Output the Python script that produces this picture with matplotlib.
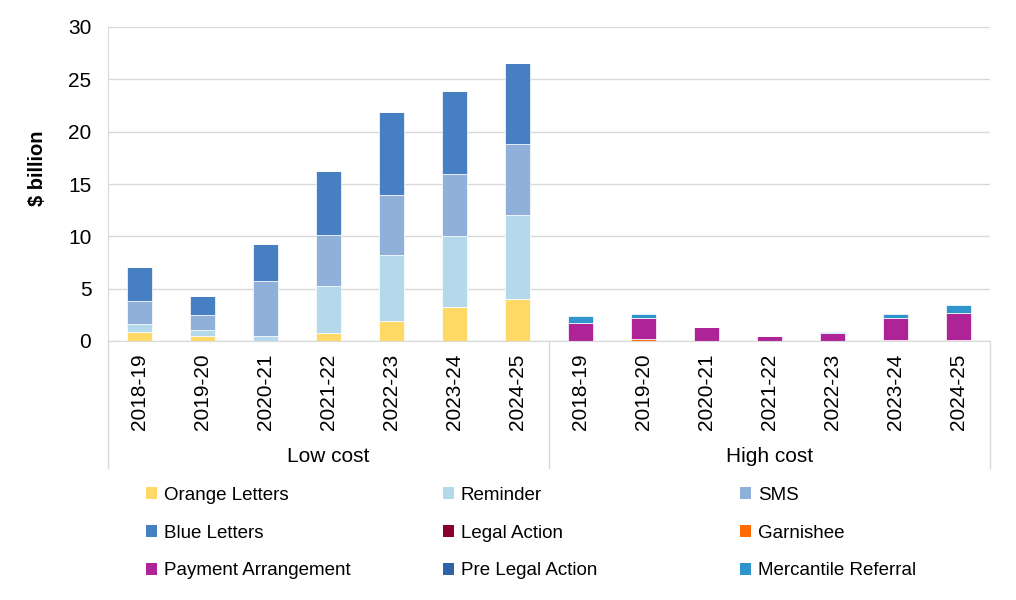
import numpy as np
import matplotlib.pyplot as plt
from matplotlib.patches import Patch

plt.rcParams['font.family'] = ['Liberation Sans', 'DejaVu Sans']

years = ['2018-19', '2019-20', '2020-21', '2021-22', '2022-23', '2023-24', '2024-25']
groups = ['Low cost', 'High cost']
labels = years + years  # 14 categories

# $ billion, low cost years then high cost years
orange_letters = [0.83, 0.45, 0.00, 0.73, 1.94, 3.22, 3.98, 0, 0, 0, 0, 0, 0, 0]
reminder = [0.80, 0.57, 0.48, 4.52, 6.24, 6.81, 8.05, 0, 0, 0, 0, 0, 0, 0]
sms = [2.17, 1.43, 5.22, 4.87, 5.76, 5.92, 6.80, 0, 0, 0, 0, 0, 0, 0]
blue_letters = [3.28, 1.85, 3.59, 6.10, 7.96, 7.90, 7.75, 0, 0, 0, 0, 0, 0, 0]
legal_action = [0, 0, 0, 0, 0, 0, 0, 0.00, 0.00, 0.00, 0.00, 0.00, 0.00, 0.00]
garnishee = [0, 0, 0, 0, 0, 0, 0, 0.04, 0.20, 0.00, 0.00, 0.00, 0.05, 0.10]
payment_arr = [0, 0, 0, 0, 0, 0, 0, 1.68, 2.00, 1.34, 0.45, 0.78, 2.15, 2.55]
pre_legal = [0, 0, 0, 0, 0, 0, 0, 0.02, 0.02, 0.00, 0.00, 0.03, 0.02, 0.05]
mercantile = [0, 0, 0, 0, 0, 0, 0, 0.62, 0.35, 0.04, 0.02, 0.03, 0.40, 0.70]

series = [
    ('Orange Letters', orange_letters, '#FFD966'),
    ('Reminder', reminder, '#B4D9EB'),
    ('SMS', sms, '#8EB0D9'),
    ('Blue Letters', blue_letters, '#4680C2'),
    ('Legal Action', legal_action, '#8B0033'),
    ('Garnishee', garnishee, '#FF6A00'),
    ('Payment Arrangement', payment_arr, '#AE2398'),
    ('Pre Legal Action', pre_legal, '#2F63A6'),
    ('Mercantile Referral', mercantile, '#3094CE'),
]

fig = plt.figure(figsize=(10.16, 6.0), dpi=100)
ax = fig.add_axes([108 / 1016, 1 - 341 / 600, (990 - 108) / 1016, (341 - 27) / 600])

x = np.arange(len(labels))
bottom = np.zeros(len(labels))
handles = []
for name, vals, col in series:
    vals = np.array(vals, dtype=float)
    ax.bar(x, vals, width=0.4, bottom=bottom, color=col, edgecolor='white', linewidth=0.5)
    bottom += vals
    handles.append(Patch(facecolor=col, edgecolor='none', label=name))

ax.set_xlim(-0.5, len(labels) - 0.5)
ax.set_ylim(0, 30)
ax.set_yticks(range(0, 31, 5))
ax.yaxis.grid(True, color='#D9D9D9', linewidth=1)
ax.set_axisbelow(True)
for s in ['top', 'right']:
    ax.spines[s].set_visible(False)
ax.spines['left'].set_color('#D9D9D9')
ax.spines['bottom'].set_color('#D9D9D9')
ax.tick_params(axis='y', length=0, labelsize=15, pad=12)
ax.tick_params(axis='x', length=0, labelsize=15, pad=9)
ax.set_xticks(x)
ax.set_xticklabels(labels, rotation=90)
ax.set_ylabel('$ billion', fontsize=14.5, fontweight='bold')
ax.yaxis.set_label_coords(-0.069, 0.55)

# group separators and group names under the axis
trans = ax.get_xaxis_transform()
depth = -(468 - 341) / 314
for xs in [-0.5, 6.5, 13.5]:
    ax.plot([xs, xs], [0, depth], transform=trans, color='#D9D9D9', lw=1, clip_on=False)
for i, g in enumerate(groups):
    ax.text(3 + 7 * i, -(457 - 341) / 314, g, transform=trans, ha='center', va='center', fontsize=15)

# legend: three columns, row-wise order
col_x = [146 / 1016, 443 / 1016, 740 / 1016]
for c in range(3):
    hs = [handles[c + 3 * r] for r in range(3)]
    fig.legend(handles=hs, loc='upper left', bbox_to_anchor=(col_x[c], 1 - 487 / 600),
               frameon=False, fontsize=13.5, handlelength=0.6, handleheight=0.6,
               handletextpad=0.35, labelspacing=1.1, borderaxespad=0, borderpad=0)

fig.savefig('out.png', dpi=100)
